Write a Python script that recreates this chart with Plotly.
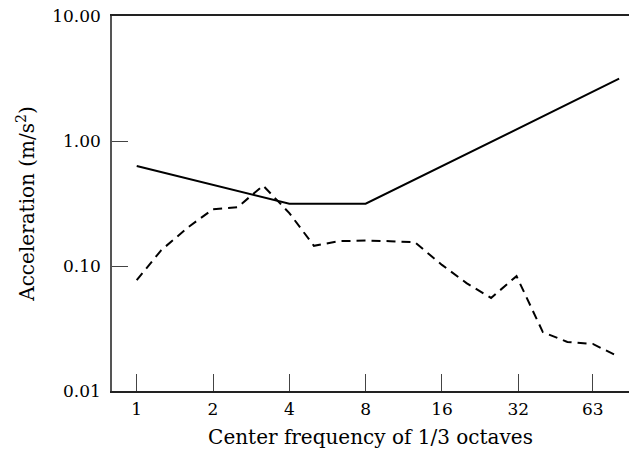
import plotly.graph_objects as go

# Limit curve (solid)
limit_freq = [1, 4, 8, 80]
limit_acc = [0.63, 0.315, 0.315, 3.15]

# Measured spectrum (dashed), 1/3-octave centre frequencies
meas_freq = [1, 1.25, 1.6, 2, 2.5, 3.15, 4, 5, 6.3, 8, 10, 12.5, 16, 20, 25, 31.5, 40, 50, 63, 80]
meas_acc = [0.077, 0.134, 0.205, 0.285, 0.295, 0.44, 0.265, 0.145, 0.158, 0.16, 0.158, 0.155,
            0.102, 0.073, 0.0555, 0.083, 0.0296, 0.0247, 0.0238, 0.0187]

x_tickvals = [1, 2, 4, 8, 16, 32, 63]
x_ticktext = ["1", "2", "4", "8", "16", "32", "63"]
y_tickvals = [0.01, 0.1, 1, 10]
y_ticktext = ["0.01", "0.10", "1.00", "10.00"]

x_range = [-0.0975, 1.942]
y_range = [-2, 1]

font = dict(family="DejaVu Serif", size=17, color="black")

fig = go.Figure()
fig.add_trace(go.Scatter(x=meas_freq, y=meas_acc, mode="lines",
                         line=dict(color="black", width=2, dash="9px,6px"), showlegend=False))
fig.add_trace(go.Scatter(x=limit_freq, y=limit_acc, mode="lines", xaxis="x2", yaxis="y2",
                         line=dict(color="black", width=2), showlegend=False))

fig.update_layout(
    width=631, height=460,
    margin=dict(l=112, r=2, t=16, b=69),
    paper_bgcolor="white", plot_bgcolor="white",
    font=font,
    xaxis=dict(type="log", range=x_range,
               tickvals=x_tickvals, ticktext=x_ticktext,
               ticks="outside", ticklen=2, tickcolor="rgba(0,0,0,0)",
               showline=True, linecolor="#222", linewidth=1.5, mirror=True,
               showgrid=False, zeroline=False,
               title=dict(text="Center frequency of 1/3 octaves", standoff=12),
               tickfont=font),
    yaxis=dict(type="log", range=y_range,
               tickvals=y_tickvals, ticktext=y_ticktext,
               ticks="outside", ticklen=6, tickcolor="rgba(0,0,0,0)",
               showline=True, linecolor="#555", linewidth=1.5,
               showgrid=False, zeroline=False,
               title=dict(text="Acceleration (m/s<sup>2</sup>)", standoff=12),
               tickfont=font),
    xaxis2=dict(type="log", range=x_range, overlaying="x", anchor="y", side="bottom",
                tickvals=x_tickvals, showticklabels=False,
                ticks="inside", ticklen=17, tickwidth=1.2, tickcolor="#444",
                showline=False, showgrid=False, zeroline=False),
    yaxis2=dict(type="log", range=y_range, overlaying="y", anchor="x", side="left",
                tickvals=y_tickvals, showticklabels=False,
                ticks="inside", ticklen=16, tickwidth=1.2, tickcolor="#444",
                showline=False, showgrid=False, zeroline=False),
)

fig.write_html("out.html")
